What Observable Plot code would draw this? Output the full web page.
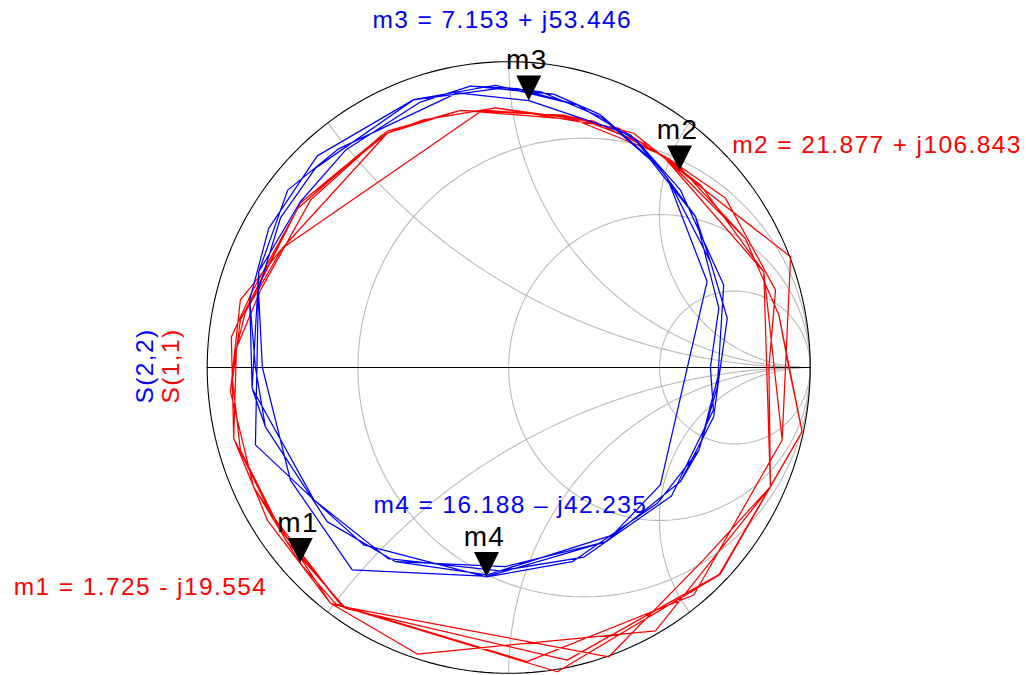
<!DOCTYPE html>
<html>
<head>
<meta charset="utf-8">
<script src="https://cdn.jsdelivr.net/npm/d3@7"></script>
<script src="https://cdn.jsdelivr.net/npm/@observablehq/plot@0.6"></script>
<style>
  html, body { margin: 0; padding: 0; background: #ffffff; }
  #chart svg { display: block; }
  #chart svg text { letter-spacing: 1.4px; }
</style>
</head>
<body>
<div id="chart"></div>
<script>
// Normalized Smith chart grid: constant-resistance circles and reactance arcs.
// r = 0 is the outer rim, x = 0 the real axis.
const resistanceCircles = [0, 1 / 3, 1, 3];
const reactanceArcs = [0, 0.5, 1, 2, -0.5, -1, -2];

// S(1,1) reflection coefficient, real and imaginary parts, in sweep order
const s11Re = [
  -0.044, 0.281, 0.509, 0.785, 0.896, 0.973, 0.697, 0.161, -0.552, -0.790, -0.912, -0.903, -0.873, -0.691, -0.403,
  -0.160, 0.182, 0.415, 0.567, 0.935, 0.907, 0.614, 0.061, -0.574, -0.692, -0.846, -0.923, -0.890, -0.751,
  -0.086, 0.222, 0.460, 0.636, 0.846, 0.868, 0.487, -0.303, -0.591, -0.846, -0.923, -0.903, -0.823, -0.657, -0.403,
  -0.160, 0.281, 0.527, 0.719, 0.885, 0.863, 0.868, 0.646, 0.332, -0.552, -0.757, -0.912, -0.903, -0.873, -0.751, -0.403,
  -0.283, -0.044, 0.364, 0.570, 0.785, 0.896, 0.929, 0.973, 0.702, 0.194, -0.541, -0.740, -0.890, -0.916, -0.890, -0.691, -0.403,
  -0.160, 0.182, 0.509, 0.846, 0.907, 0.614, 0.061, -0.591, -0.800, -0.912, -0.920, -0.850, -0.700, -0.420, -0.283
];
const s11Im = [
  0.849, 0.806, 0.695, 0.422, 0.172, -0.210, -0.679, -0.995, -0.782, -0.476, -0.232, 0.064, 0.182, 0.538, 0.766,
  0.841, 0.825, 0.766, 0.644, 0.362, -0.237, -0.744, -0.962, -0.773, -0.640, -0.391, -0.079, 0.221, 0.390,
  0.842, 0.819, 0.729, 0.597, 0.313, -0.390, -0.861, -0.937, -0.771, -0.391, -0.079, 0.064, 0.253, 0.548, 0.773,
  0.841, 0.806, 0.685, 0.554, 0.253, 0.000, -0.390, -0.629, -0.946, -0.782, -0.531, -0.232, 0.064, 0.182, 0.390, 0.766,
  0.810, 0.849, 0.783, 0.652, 0.422, 0.172, 0.000, -0.210, -0.675, -0.957, -0.788, -0.564, -0.270, -0.041, 0.155, 0.538, 0.773,
  0.841, 0.825, 0.695, 0.313, -0.237, -0.744, -0.962, -0.771, -0.500, -0.232, 0.100, 0.250, 0.520, 0.760, 0.810
];

// S(2,2) reflection coefficient, real and imaginary parts, in sweep order
const s22Re = [
  -0.127, 0.149, 0.304, 0.493, 0.620, 0.669, 0.725, 0.702, 0.680, 0.570, 0.321, -0.011, -0.375, -0.602, -0.807, -0.851, -0.859, -0.796, -0.635, -0.315,
  -0.044, 0.227, 0.426, 0.570, 0.713, 0.692, 0.631, 0.493, 0.211, -0.074, -0.481, -0.646, -0.840, -0.829, -0.733, -0.564, -0.171,
  0.067, 0.404, 0.526, 0.658, 0.503, 0.344, -0.084, -0.519, -0.724, -0.817, -0.830, -0.757, -0.641, -0.316, -0.011,
  0.109, 0.307, 0.470, 0.620, 0.697, 0.669, 0.679, 0.540, 0.250, -0.030, -0.400, -0.646, -0.851, -0.829, -0.691, -0.541, -0.293, -0.127,
  0.030, 0.227, 0.426, 0.526, 0.669, 0.725, 0.702, 0.631, 0.570, 0.321, -0.060, -0.375, -0.602, -0.807, -0.840, -0.859, -0.796, -0.635, -0.315
];
const s22Im = [
  0.920, 0.894, 0.827, 0.663, 0.493, 0.346, 0.161, 0.000, -0.161, -0.373, -0.570, -0.651, -0.635, -0.504, -0.194, -0.068, 0.221, 0.455, 0.692, 0.876,
  0.923, 0.859, 0.741, 0.580, 0.270, -0.063, -0.270, -0.444, -0.635, -0.685, -0.580, -0.433, -0.253, 0.313, 0.580, 0.715, 0.898,
  0.873, 0.761, 0.620, 0.281, -0.384, -0.548, -0.682, -0.662, -0.368, 0.000, 0.253, 0.489, 0.652, 0.875, 0.915,
  0.901, 0.819, 0.679, 0.493, 0.194, 0.000, -0.139, -0.420, -0.620, -0.665, -0.625, -0.433, -0.068, 0.313, 0.542, 0.711, 0.868, 0.920,
  0.912, 0.859, 0.741, 0.620, 0.346, 0.161, 0.000, -0.270, -0.373, -0.570, -0.680, -0.635, -0.504, -0.194, 0.000, 0.221, 0.455, 0.692, 0.876
];

// Marker readouts: impedance in ohms on a 50 ohm reference
const z0 = 50;
const markerNames = ["m1", "m2", "m3", "m4"];
const markerTraces = ["S(1,1)", "S(1,1)", "S(2,2)", "S(2,2)"];
const markerR = [1.725, 21.877, 7.153, 16.188];
const markerX = [-19.554, 106.843, 53.446, -42.235];
const markerReadouts = [
  "m1 = 1.725 - j19.554",
  "m2 = 21.877 + j106.843",
  "m3 = 7.153 + j53.446",
  "m4 = 16.188 \u2013 j42.235"
];

const traceNames = ["S(2,2)", "S(1,1)"];
const traceColors = {"S(1,1)": "#ff0000", "S(2,2)": "#0000ff"};

// ---- derived tables ----
function gammaFromNormalized(r, x) {
  const d = (r + 1) * (r + 1) + x * x;
  return [((r - 1) * (r + 1) + x * x) / d, (2 * x) / d];
}
function gammaFromOhms(R, X) {
  const nr = R - z0, dr = R + z0, d = dr * dr + X * X;
  return [(nr * dr + X * X) / d, (X * dr - nr * X) / d];
}

const gridRows = [];
for (const r of resistanceCircles) {
  const c = r / (r + 1), rad = 1 / (r + 1);
  for (let k = 0; k <= 240; k++) {
    const t = (2 * Math.PI * k) / 240;
    gridRows.push({id: "r" + r, rim: r === 0, re: c + rad * Math.cos(t), im: rad * Math.sin(t)});
  }
}
for (const x of reactanceArcs) {
  for (let k = 0; k < 200; k++) {
    const r = Math.tan((Math.PI / 2) * (k / 200));
    const [re, im] = gammaFromNormalized(r, x);
    gridRows.push({id: "x" + x, rim: x === 0, re, im});
  }
  gridRows.push({id: "x" + x, rim: x === 0, re: 1, im: 0});
}

const s11Rows = s11Re.map((re, i) => ({re, im: s11Im[i]}));
const s22Rows = s22Re.map((re, i) => ({re, im: s22Im[i]}));

const markers = markerNames.map((name, i) => {
  const [re, im] = gammaFromOhms(markerR[i], markerX[i]);
  return {name, trace: markerTraces[i], readout: markerReadouts[i], re, im};
});

// Downward triangle whose tip sits on the marked sample
const markerTriangle = {
  draw(context) {
    context.moveTo(0, 0);
    context.lineTo(-12.5, -25);
    context.lineTo(12.5, -25);
    context.closePath();
  }
};

const readoutOffsets = {
  m1: {dx: -286.4, dy: 31.9},
  m2: {dx: 52.7, dy: -17.2},
  m3: {dx: -156.3, dy: -72.2},
  m4: {dx: -113, dy: -64.5}
};

const fontFamily = '"Liberation Sans", Arial, Helvetica, sans-serif';

const chart = Plot.plot({
  width: 1026,
  height: 675,
  marginLeft: 206.7,
  marginRight: 216.3,
  marginTop: 61.2,
  marginBottom: 2.2,
  x: {domain: [-1, 1], axis: null},
  y: {domain: [-1, 1], axis: null},
  style: {fontFamily, fontSize: "24.5px", background: "#ffffff", overflow: "visible"},
  marks: [
    Plot.line(gridRows.filter((d) => !d.rim), {x: "re", y: "im", z: "id", stroke: "#bababa", strokeWidth: 1.1}),
    Plot.line(gridRows.filter((d) => d.rim), {x: "re", y: "im", z: "id", stroke: "#000000", strokeWidth: 1.1}),
    Plot.line(s11Rows, {x: "re", y: "im", stroke: traceColors["S(1,1)"], strokeWidth: 1.25}),
    Plot.line(s22Rows, {x: "re", y: "im", stroke: traceColors["S(2,2)"], strokeWidth: 1.25}),
    Plot.dot(markers, {x: "re", y: "im", symbol: markerTriangle, fill: "#000000", stroke: null, r: 6}),
    Plot.text(markers, {x: "re", y: "im", text: "name", dx: -2, dy: -31.5, lineAnchor: "bottom", textAnchor: "middle", fill: "#000000", fontSize: 28}),
    ...markers.map((m) =>
      Plot.text([m], {
        x: "re", y: "im", text: "readout",
        dx: readoutOffsets[m.name].dx, dy: readoutOffsets[m.name].dy,
        textAnchor: "start", lineAnchor: "bottom",
        fill: traceColors[m.trace], fontSize: 24.5
      })
    ),
    // rotated trace legend to the left of the chart
    Plot.text([traceNames[0]], {frameAnchor: "left", text: (d) => d, rotate: -90, dx: -54.7, dy: -1.5, lineAnchor: "bottom", textAnchor: "middle", fill: traceColors["S(2,2)"], fontSize: 24.5}),
    Plot.text([traceNames[1]], {frameAnchor: "left", text: (d) => d, rotate: -90, dx: -28.2, dy: -1.5, lineAnchor: "bottom", textAnchor: "middle", fill: traceColors["S(1,1)"], fontSize: 24.5})
  ]
});

document.getElementById("chart").appendChild(chart);
</script>
</body>
</html>
